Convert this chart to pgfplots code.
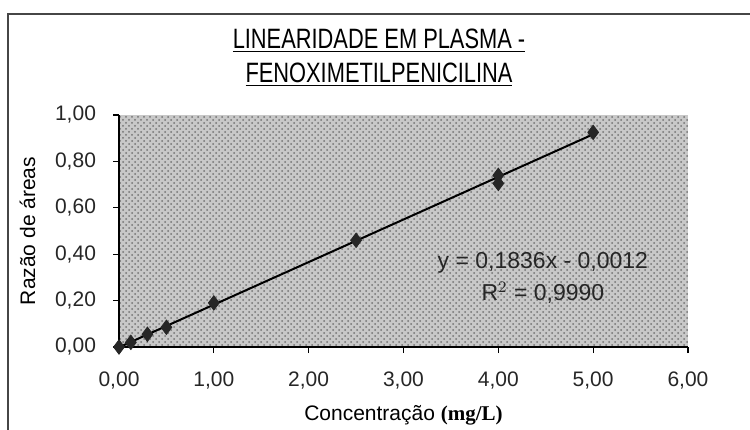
\documentclass[border=0pt]{standalone}
\usepackage{fontspec}
\setmainfont{Liberation Sans}
\newfontfamily\serifbold{Liberation Serif}
\usepackage{graphicx}
\usepackage{pgfplots}
\usetikzlibrary{patterns}
\pgfplotsset{compat=1.18}
\definecolor{plotbg}{RGB}{200,200,200}
\definecolor{framec}{RGB}{70,70,70}
\begin{document}
\begin{tikzpicture}
\path[use as bounding box] (0,0) rectangle (375pt,214.5pt);
\draw[framec, line width=1pt] (4pt,-20pt) rectangle (400pt,207.5pt);
\node[font=\fontsize{14}{16}\selectfont] at (189.5pt,194pt) {\scalebox{0.78}[1]{\underline{LINEARIDADE EM PLASMA -}}};
\node[font=\fontsize{14}{16}\selectfont] at (189.5pt,177pt) {\scalebox{0.78}[1]{\underline{FENOXIMETILPENICILINA}}};
\begin{axis}[
  at={(59.5pt,41pt)}, anchor=south west,
  scale only axis, width=284.5pt, height=116pt,
  xmin=0, xmax=6, ymin=0, ymax=1,
  xtick={0,1,2,3,4,5,6}, ytick={0,0.2,0.4,0.6,0.8,1.0},
  axis x line*=bottom, axis y line*=left,
  axis line style={-, black, line width=0.7pt},
  tick align=outside, major tick length=3pt,
  tick style={black, line width=0.6pt},
  axis background/.style={fill=plotbg, postaction={pattern=crosshatch dots, pattern color=black!55}},
  /pgf/number format/.cd, fixed, fixed zerofill, precision=2, use comma, assume math mode=true,
  /pgfplots/.cd,
  ticklabel style={font=\fontsize{10.5}{12}\selectfont, text=black!85},
  xticklabel style={yshift=-6pt},
  yticklabel style={xshift=-5pt},
  xlabel={Concentração {\serifbold\bfseries (mg/L)}},
  ylabel={Razão de áreas},
  label style={font=\fontsize{10.5}{12}\selectfont},
  xlabel style={yshift=-1pt},
  ylabel style={yshift=3pt},
  clip=false,
]
\addplot[black, line width=1pt, no marks] coordinates {(0,-0.0012) (5,0.9168)};
\addplot[only marks, mark=diamond*, mark size=3.6pt, black!85] coordinates {
(0,0) (0.125,0.02) (0.3,0.055) (0.5,0.085) (1.0,0.19) (2.5,0.46) (4.0,0.74) (4.0,0.705) (5.0,0.925)};
\node[font=\fontsize{11.5}{13}\selectfont, text=black!85] at (axis cs:4.47,0.362) {y = 0,1836x - 0,0012};
\node[font=\fontsize{11.5}{13}\selectfont, text=black!85] at (axis cs:4.47,0.233) {R$^2$ = 0,9990};
\end{axis}
\end{tikzpicture}
\end{document}
